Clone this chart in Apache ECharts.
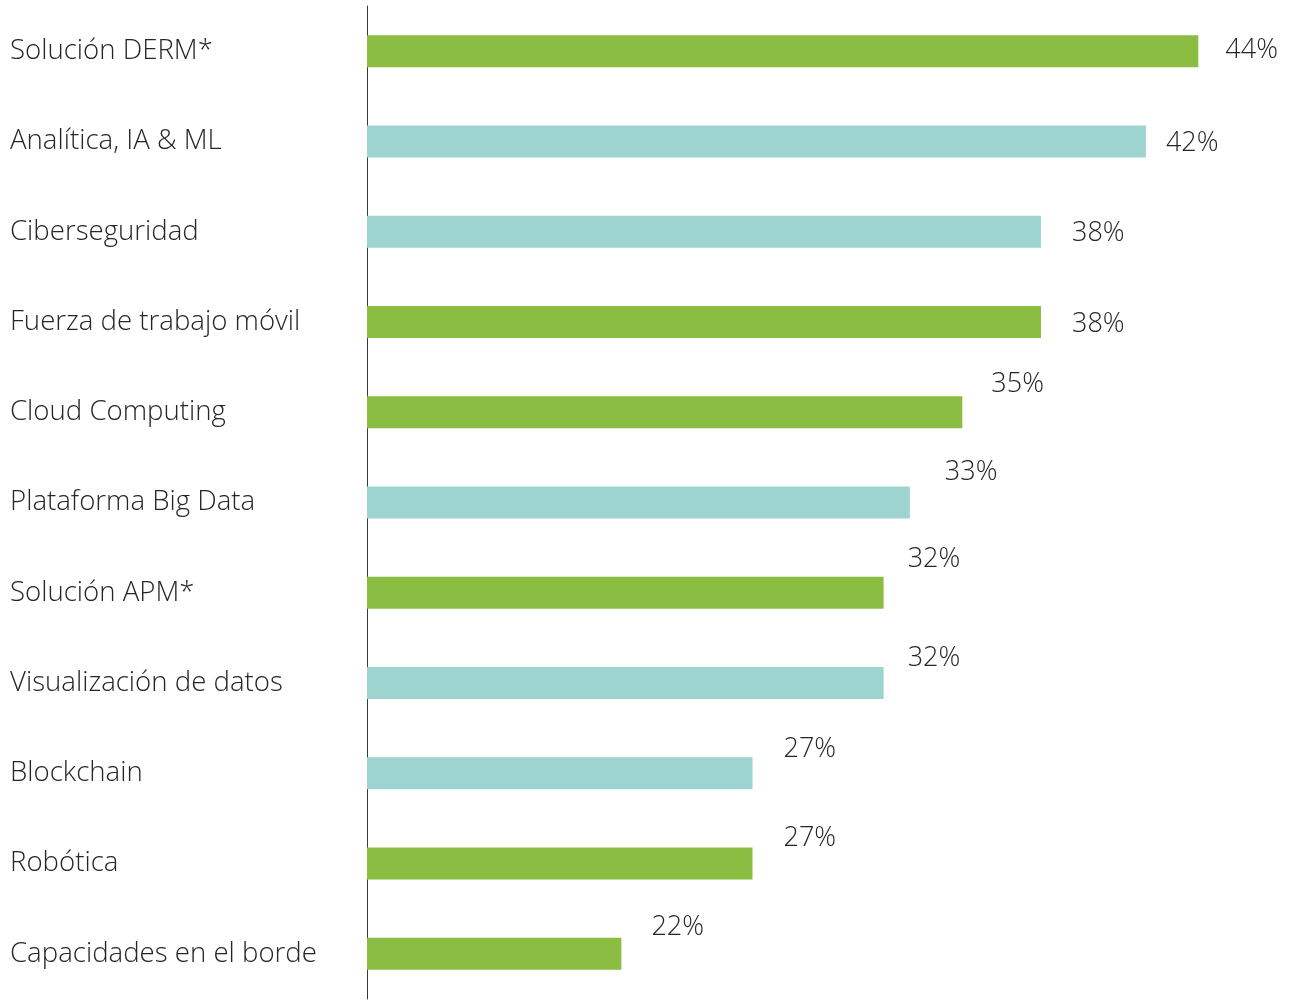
<!DOCTYPE html>
<html>
<head>
<meta charset="utf-8">
<title>Tecnologías</title>
<script src="https://cdn.jsdelivr.net/npm/echarts@6/dist/echarts.min.js"></script>
<style>
  html, body { margin: 0; padding: 0; background: #ffffff; }
  #chart { width: 1289px; height: 1000px; }
</style>
</head>
<body>
<div id="chart"></div>
<script>
// Technology categories, top to bottom
const categories = [
  'Solución DERM*',
  'Analítica, IA & ML',
  'Ciberseguridad',
  'Fuerza de trabajo móvil',
  'Cloud Computing',
  'Plataforma Big Data',
  'Solución APM*',
  'Visualización de datos',
  'Blockchain',
  'Robótica',
  'Capacidades en el borde'
];

// Share of respondents (%)
const values = [44, 42, 38, 38, 35, 33, 32, 32, 27, 27, 22];

// Colour group of each bar: 'g' = green, 't' = teal
const groups = ['g', 't', 't', 'g', 'g', 't', 'g', 't', 't', 'g', 'g'];

// Value-label nudges [dx, dy] relative to the bar end
const labelNudges = [
  [27, -1], [20, 2], [31, 2], [31, 2], [29, -28], [35, -30],
  [24, -33], [24, -25], [31, -24], [31, -25], [30, -27]
];

const palette = { g: '#8abd42', t: '#9dd4cf' };
const FONT = '"Open Sans", "Noto Sans", sans-serif';
const TEXT = '#262626';

const chart = echarts.init(document.getElementById('chart'), null, { renderer: 'canvas' });

chart.setOption({
  animation: false,
  backgroundColor: '#ffffff',
  grid: { left: 367, top: 6, width: 910, height: 993, containLabel: false },
  xAxis: {
    type: 'value',
    min: 12.3,
    max: 47,
    show: false
  },
  yAxis: {
    type: 'category',
    inverse: true,
    data: categories,
    axisLine: { show: true, lineStyle: { color: '#3a3a3a', width: 1 } },
    axisTick: { show: false },
    splitLine: { show: false },
    axisLabel: {
      align: 'left',
      margin: 357,
      padding: [7, 0, 0, 0],
      color: TEXT,
      fontFamily: FONT,
      fontWeight: 300,
      fontSize: 27.6
    }
  },
  series: [{
    type: 'bar',
    barWidth: 32,
    data: values.map((v, i) => ({
      value: v,
      itemStyle: { color: palette[groups[i]] },
      label: { offset: labelNudges[i] }
    })),
    label: {
      show: true,
      position: 'right',
      distance: 0,
      formatter: '{c}%',
      color: TEXT,
      fontFamily: FONT,
      fontWeight: 300,
      fontSize: 27
    }
  }]
});
</script>
</body>
</html>
